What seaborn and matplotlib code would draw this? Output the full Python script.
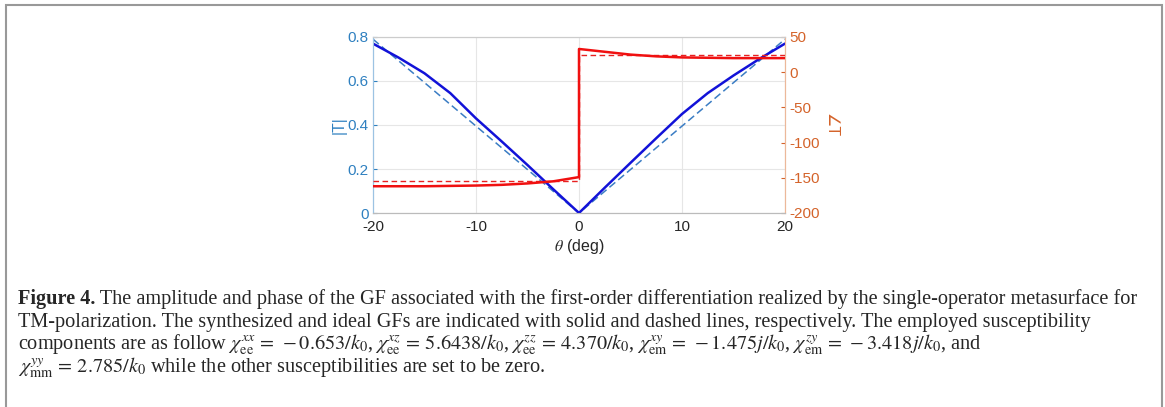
import numpy as np
import pandas as pd
import matplotlib
matplotlib.use("Agg")
import matplotlib.pyplot as plt
from matplotlib.patches import Rectangle
import seaborn as sns

# ---- data ----
theta_mag = [-20, -17.5, -15, -12.5, -10, -7.5, -5, -2.5, 0, 2.5, 5, 7.5, 10, 12.5, 15, 17.5, 20]
mag_synth = [0.77, 0.706, 0.635, 0.545, 0.43, 0.325, 0.218, 0.108, 0.0, 0.115, 0.228, 0.34, 0.45, 0.545, 0.625, 0.70, 0.77]
theta_ideal = [-20, 0, 20]
mag_ideal = [0.79, 0.0, 0.79]

theta_phase = [-20, -15, -10, -7.5, -5, -2.5, 0, 0, 2.5, 5, 7.5, 10, 12.5, 15, 20]
phase_synth = [-162, -162, -161, -160, -158, -155, -149, 33, 29, 25, 22.5, 21, 20.5, 20, 20]
theta_phase_ideal = [-20, 0, 0, 20]
phase_ideal = [-155, -155, 25, 25]

x_ticks = [-20, -10, 0, 10, 20]
left_ticks = [0, 0.2, 0.4, 0.6, 0.8]
left_ticklabels = ["0", "0.2", "0.4", "0.6", "0.8"]
right_ticks = [-200, -150, -100, -50, 0, 50]

caption_bold = "Figure 4."
caption_lines = [
    " The amplitude and phase of the GF associated with the first-order differentiation realized by the single-operator metasurface for",
    "TM-polarization. The synthesized and ideal GFs are indicated with solid and dashed lines, respectively. The employed susceptibility",
    r"components are as follow $\chi_{\rm ee}^{xx}\,=\,-0.653/k_0$, $\chi_{\rm ee}^{xz}\,=\,5.6438/k_0$, $\chi_{\rm ee}^{zz}\,=\,4.370/k_0$, "
    r"$\chi_{\rm em}^{xy}\,=\,-1.475j/k_0$, $\chi_{\rm em}^{zy}\,=\,-3.418j/k_0$, and",
    r"$\chi_{\rm mm}^{yy}\,=\,2.785/k_0$ while the other susceptibilities are set to be zero.",
]

# ---- style ----
sns.set_style("white")
plt.rcParams["font.family"] = ["Liberation Sans", "DejaVu Sans"]
plt.rcParams["mathtext.fontset"] = "stix"

BLUE_AX = "#2F80C0"
ORANGE_AX = "#D4632A"

W, H = 1165, 407
fig = plt.figure(figsize=(W / 100, H / 100), dpi=100)
ax1 = fig.add_axes([373 / W, 1 - 213 / H, (785 - 373) / W, (213 - 37) / H])
ax2 = ax1.twinx()

df_mag = pd.DataFrame({"theta": theta_mag, "mag": mag_synth})
df_mag_i = pd.DataFrame({"theta": theta_ideal, "mag": mag_ideal})
df_ph = pd.DataFrame({"theta": theta_phase, "phase": phase_synth})
df_ph_i = pd.DataFrame({"theta": theta_phase_ideal, "phase": phase_ideal})

sns.lineplot(data=df_mag_i, x="theta", y="mag", ax=ax1, sort=False, estimator=None,
             color="#3B7DC4", lw=1.1, linestyle=(0, (5, 2.5)), zorder=3)
sns.lineplot(data=df_mag, x="theta", y="mag", ax=ax1, sort=False, estimator=None,
             color="#1212D8", lw=1.8, zorder=4)
sns.lineplot(data=df_ph_i, x="theta", y="phase", ax=ax2, sort=False, estimator=None,
             color="#E82020", lw=1.0, linestyle=(0, (4, 2.5)), zorder=3)
sns.lineplot(data=df_ph, x="theta", y="phase", ax=ax2, sort=False, estimator=None,
             color="#F01010", lw=1.8, zorder=4)

ax1.set_xlim(-20, 20)
ax1.set_ylim(0, 0.8)
ax2.set_ylim(-200, 50)
ax1.set_xticks(x_ticks)
ax1.set_xticklabels([str(t) for t in x_ticks])
ax1.set_yticks(left_ticks)
ax1.set_yticklabels(left_ticklabels)
ax2.set_yticks(right_ticks)
ax2.set_yticklabels([str(t) for t in right_ticks])

ax1.grid(True, color="#e6e6e6", lw=0.8)
ax1.set_axisbelow(True)

ax1.tick_params(axis="x", direction="in", length=3, labelsize=11, colors="#bbbbbb",
                labelcolor="#262626", pad=5)
ax1.tick_params(axis="y", direction="in", length=3, labelsize=11, colors=BLUE_AX,
                labelcolor=BLUE_AX, pad=3)
ax2.tick_params(axis="y", direction="in", length=3, labelsize=11, colors=ORANGE_AX,
                labelcolor=ORANGE_AX, pad=3)

for a in (ax1, ax2):
    a.spines["top"].set_color("#cccccc")
    a.spines["bottom"].set_color("#bbbbbb")
    a.spines["left"].set_color("#9cc3e3")
    a.spines["right"].set_color("#ecb89a")
    for s in a.spines.values():
        s.set_linewidth(0.8)

ax1.set_xlabel(r"$\theta$ (deg)", fontsize=11.5, color="#262626", labelpad=2)
ax1.set_ylabel("|T|", fontsize=11.5, color=BLUE_AX, labelpad=1)
ax2.set_ylabel("∠T", fontsize=11.5, color=ORANGE_AX, labelpad=3, rotation=270, va="bottom")

# ---- frame box ----
fig.add_artist(Rectangle((6 / W, -0.1), (1162 - 6) / W, 1.1 - 5 / H, transform=fig.transFigure,
                         fill=False, edgecolor="#999999", lw=1.5))

# ---- caption ----
cap_fs = 14.6
serif = ["Liberation Serif", "DejaVu Serif"]
x0 = 18 / W
baselines = [304, 327, 350, 373]
tb = fig.text(x0, 1 - baselines[0] / H, caption_bold, fontsize=cap_fs, fontweight="bold",
              family=serif, va="baseline", ha="left")
fig.canvas.draw()
bb = tb.get_window_extent(renderer=fig.canvas.get_renderer())
x1 = bb.x1 / (W)
fig.text(x1, 1 - baselines[0] / H, caption_lines[0], fontsize=cap_fs, family=serif,
         va="baseline", ha="left")
for line, yb in zip(caption_lines[1:], baselines[1:]):
    fig.text(x0, 1 - yb / H, line, fontsize=cap_fs, family=serif, va="baseline", ha="left")

fig.savefig("out.png", dpi=100, facecolor="white")
